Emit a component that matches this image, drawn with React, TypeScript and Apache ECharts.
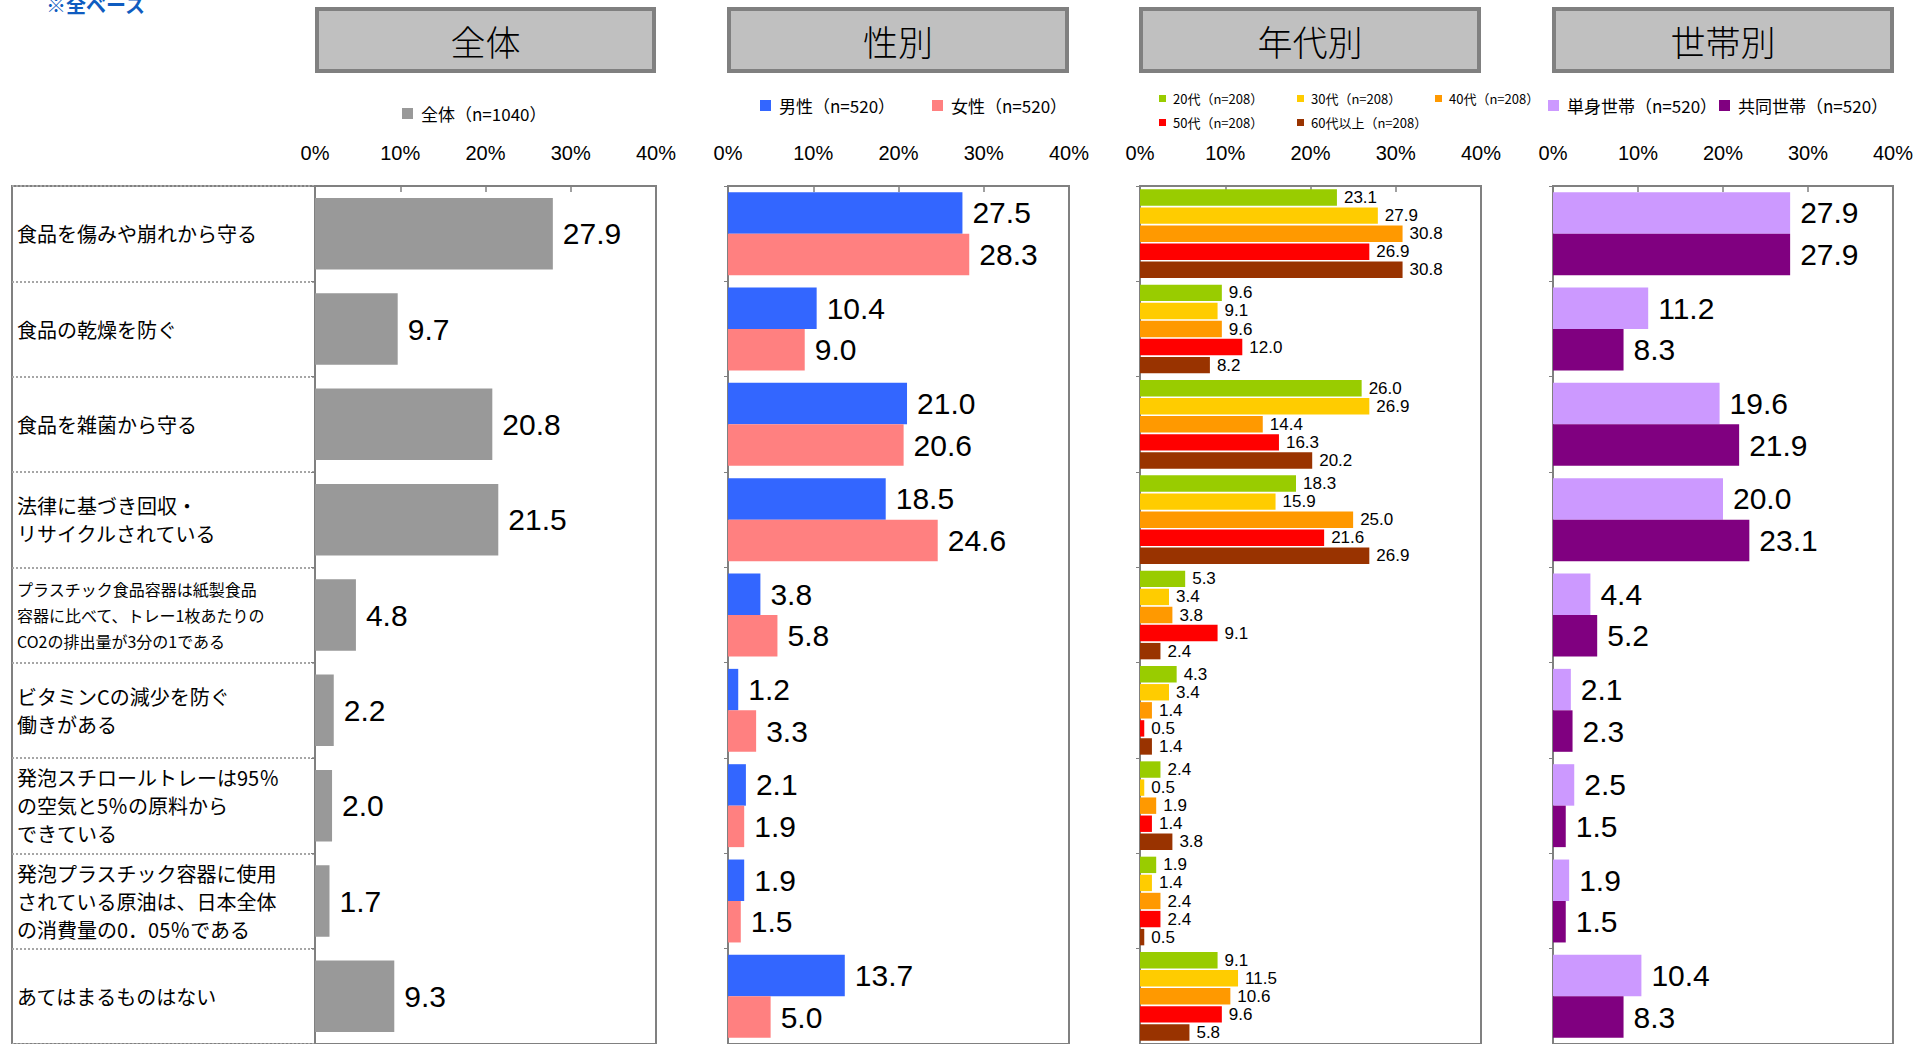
import React, { useEffect, useRef } from 'react';
import * as echarts from 'echarts';

const categories = [
  '食品を傷みや崩れから守る',
  '食品の乾燥を防ぐ',
  '食品を雑菌から守る',
  '法律に基づき回収・\nリサイクルされている',
  'プラスチック食品容器は紙製食品\n容器に比べて、トレー1枚あたりの\nCO2の排出量が3分の1である',
  'ビタミンCの減少を防ぐ\n働きがある',
  '発泡スチロールトレーは95％\nの空気と5％の原料から\nできている',
  '発泡プラスチック容器に使用\nされている原油は、日本全体\nの消費量の0．05％である',
  'あてはまるものはない',
];

const panelTitles = ['全体', '性別', '年代別', '世帯別'];

const totalName = '全体（n=1040）';
const total = [27.9, 9.7, 20.8, 21.5, 4.8, 2.2, 2.0, 1.7, 9.3];

const genderNames = ['男性（n=520）', '女性（n=520）'];
const male = [27.5, 10.4, 21.0, 18.5, 3.8, 1.2, 2.1, 1.9, 13.7];
const female = [28.3, 9.0, 20.6, 24.6, 5.8, 3.3, 1.9, 1.5, 5.0];

const ageNames = ['20代（n=208）', '30代（n=208）', '40代（n=208）', '50代（n=208）', '60代以上（n=208）'];
const age20 = [23.1, 9.6, 26.0, 18.3, 5.3, 4.3, 2.4, 1.9, 9.1];
const age30 = [27.9, 9.1, 26.9, 15.9, 3.4, 3.4, 0.5, 1.4, 11.5];
const age40 = [30.8, 9.6, 14.4, 25.0, 3.8, 1.4, 1.9, 2.4, 10.6];
const age50 = [26.9, 12.0, 16.3, 21.6, 9.1, 0.5, 1.4, 2.4, 9.6];
const age60 = [30.8, 8.2, 20.2, 26.9, 2.4, 1.4, 3.8, 0.5, 5.8];

const householdNames = ['単身世帯（n=520）', '共同世帯（n=520）'];
const single = [27.9, 11.2, 19.6, 20.0, 4.4, 2.1, 2.5, 1.9, 10.4];
const shared = [27.9, 8.3, 21.9, 23.1, 5.2, 2.3, 1.5, 1.5, 8.3];

const axisMin = 0;
const axisMax = 40;
const axisStep = 10;

const FONT_JP = '"Noto Sans CJK JP", "Noto Sans", sans-serif';
const FONT_NUM = '"Liberation Sans", Arial, sans-serif';
const GRAY = '#808080';

export default function App() {
  const ref = useRef<HTMLDivElement>(null);

  useEffect(() => {
    if (!ref.current) return;
    const chart = echarts.init(ref.current, null, { renderer: 'svg' });

    const gridTop = 186;
    const gridHeight = 861;
    const panelLeft = [315, 728, 1140, 1553];
    const panelWidth = 341;

    const fmt = (p: any) => Number(p.value).toFixed(1);
    const bigLabel = {
      show: true, position: 'right', distance: 10, fontSize: 30,
      fontFamily: FONT_NUM, color: '#000', formatter: fmt,
    };
    const smallLabel = {
      show: true, position: 'right', distance: 7, fontSize: 17,
      fontFamily: FONT_NUM, color: '#000', formatter: fmt,
    };

    const grids: any[] = [
      { left: 12, top: gridTop, width: 303, height: gridHeight, show: true, borderColor: GRAY, borderWidth: 2 },
      ...panelLeft.map((l) => ({
        left: l, top: gridTop, width: panelWidth, height: gridHeight,
        show: true, borderColor: GRAY, borderWidth: 2,
      })),
    ];

    const xAxes: any[] = [
      { gridIndex: 0, type: 'value', min: 0, max: 1, show: false },
      ...panelLeft.map((_, i) => ({
        gridIndex: i + 1, type: 'value', position: 'top',
        min: axisMin, max: axisMax, interval: axisStep,
        axisLine: { show: false },
        axisTick: { show: true, inside: true, length: 6, lineStyle: { color: GRAY, width: 1.5 } },
        splitLine: { show: false },
        axisLabel: { formatter: '{value}%', fontSize: 20, fontFamily: FONT_NUM, color: '#000', margin: 23 },
      })),
    ];

    const yAxes: any[] = [
      {
        gridIndex: 0, type: 'category', inverse: true, data: categories,
        axisLine: { show: false }, axisTick: { show: false },
        splitLine: { show: true, interval: 0, lineStyle: { type: 'dotted', color: '#a6a6a6', width: 2 } },
        axisLabel: {
          inside: true, interval: 0, margin: 5, color: '#000',
          formatter: (value: string, index: number) => {
            const tag = index === 4 ? 's' : 'n';
            return value.split('\n').map((l) => `{${tag}|${l}}`).join('\n');
          },
          rich: {
            n: { fontSize: 20, lineHeight: 28, fontFamily: FONT_JP, color: '#000' },
            s: { fontSize: 16, lineHeight: 26, fontFamily: FONT_JP, color: '#000' },
          },
        },
      },
      ...panelLeft.map((_, i) => ({
        gridIndex: i + 1, type: 'category', inverse: true, data: categories,
        axisLine: { show: false },
        axisTick: { show: true, length: 4, lineStyle: { color: GRAY } },
        axisLabel: { show: false },
      })),
    ];

    const ageData = [age20, age30, age40, age50, age60];
    const ageColors = ['#99CC00', '#FFCC00', '#FF9900', '#FF0000', '#993300'];

    const series: any[] = [
      {
        type: 'bar', name: totalName, xAxisIndex: 1, yAxisIndex: 1, data: total,
        barCategoryGap: '25%', itemStyle: { color: '#999999' }, label: bigLabel,
      },
      {
        type: 'bar', name: genderNames[0], xAxisIndex: 2, yAxisIndex: 2, data: male,
        barGap: '0%', barCategoryGap: '13%', itemStyle: { color: '#3366FF' }, label: bigLabel,
      },
      {
        type: 'bar', name: genderNames[1], xAxisIndex: 2, yAxisIndex: 2, data: female,
        barGap: '0%', barCategoryGap: '13%', itemStyle: { color: '#FF8080' }, label: bigLabel,
      },
      ...ageData.map((d, k) => ({
        type: 'bar', name: ageNames[k], xAxisIndex: 3, yAxisIndex: 3, data: d,
        barGap: '10%', barCategoryGap: '7%', itemStyle: { color: ageColors[k] }, label: smallLabel,
      })),
      {
        type: 'bar', name: householdNames[0], xAxisIndex: 4, yAxisIndex: 4, data: single,
        barGap: '0%', barCategoryGap: '13%', itemStyle: { color: '#CC99FF' }, label: bigLabel,
      },
      {
        type: 'bar', name: householdNames[1], xAxisIndex: 4, yAxisIndex: 4, data: shared,
        barGap: '0%', barCategoryGap: '13%', itemStyle: { color: '#800080' }, label: bigLabel,
      },
    ];

    const mkLegend = (name: string, left: number, top: number, big: boolean) => ({
      data: [name], left, top, padding: 0, icon: 'rect',
      itemWidth: big ? 11 : 7, itemHeight: big ? 11 : 7,
      selectedMode: false,
      textStyle: {
        fontSize: big ? 17 : 13, fontFamily: FONT_JP, color: '#000',
        padding: [0, 0, 0, big ? 3 : 2],
      },
    });

    const legends = [
      mkLegend(totalName, 402, 105, true),
      mkLegend(genderNames[0], 760, 97, true),
      mkLegend(genderNames[1], 932, 97, true),
      mkLegend(ageNames[0], 1159, 92, false),
      mkLegend(ageNames[1], 1297, 92, false),
      mkLegend(ageNames[2], 1435, 92, false),
      mkLegend(ageNames[3], 1159, 116, false),
      mkLegend(ageNames[4], 1297, 116, false),
      mkLegend(householdNames[0], 1548, 97, true),
      mkLegend(householdNames[1], 1719, 97, true),
    ];

    const titleBoxes = [
      { x: 315, w: 341 },
      { x: 727, w: 342 },
      { x: 1139, w: 342 },
      { x: 1552, w: 342 },
    ];

    const graphics: any[] = [
      {
        type: 'text', left: 46, top: -6,
        style: { text: '※全ベース', fontSize: 20, fontWeight: 'bold', fontFamily: FONT_JP, fill: '#0f5cc0' },
      },
    ];
    titleBoxes.forEach((b, i) => {
      graphics.push({
        type: 'rect',
        shape: { x: b.x + 2, y: 9, width: b.w - 4, height: 62 },
        style: { fill: '#C0C0C0', stroke: GRAY, lineWidth: 4 },
      });
      graphics.push({
        type: 'text', x: b.x + b.w / 2, y: 40,
        style: {
          text: panelTitles[i], fontSize: 35, fontWeight: 300, fontFamily: FONT_JP, fill: '#000',
          align: 'center', verticalAlign: 'middle',
        },
      });
    });

    chart.setOption({
      animation: false,
      backgroundColor: '#ffffff',
      grid: grids,
      xAxis: xAxes,
      yAxis: yAxes,
      legend: legends,
      series,
      graphic: graphics,
    });

    return () => chart.dispose();
  }, []);

  return (
    <div
      ref={ref}
      style={{ position: 'absolute', left: 0, top: 0, width: 1916, height: 1044 }}
    />
  );
}
